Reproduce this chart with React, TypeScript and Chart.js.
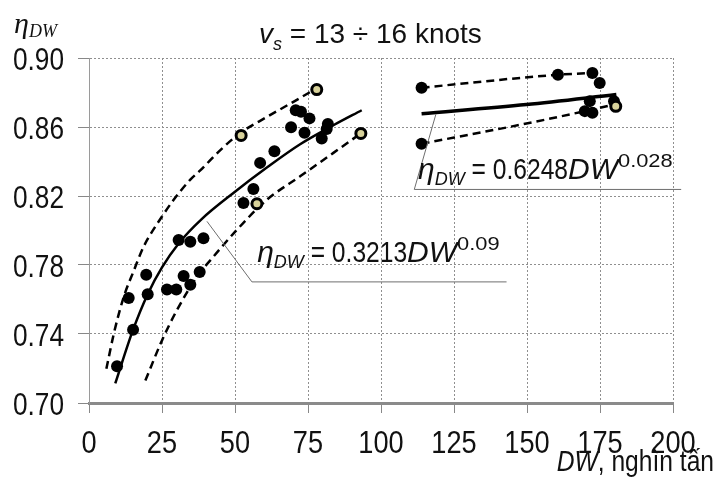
import React, { useEffect, useRef } from "react";
import { Chart, registerables } from "chart.js";

Chart.register(...registerables);

// ---- tick values ----
const xTickValues = [0, 25, 50, 75, 100, 125, 150, 175, 200];
const yTickValues = [0.7, 0.74, 0.78, 0.82, 0.86, 0.9];

// ---- measured points (DW thousand tons, eta) ----
const filledDW = [
  9.6, 15.1, 13.6, 20.1, 19.6, 26.7, 29.9, 32.4, 34.7, 37.9, 30.7, 34.7, 39.2,
  52.9, 56.3, 58.6, 63.5, 69.2, 73.8, 70.8, 72.6, 75.5, 81.8, 81.4, 79.7,
  113.9, 113.9, 160.6, 172.4, 174.9, 171.5, 169.8, 172.4, 179.8,
];
const filledEta = [
  0.7213, 0.7425, 0.7609, 0.7631, 0.7743, 0.7658, 0.7658, 0.7736, 0.7685, 0.7759, 0.7945, 0.7935, 0.7955,
  0.8159, 0.8241, 0.8392, 0.846, 0.8599, 0.8567, 0.8697, 0.8689, 0.865, 0.8617, 0.8588, 0.8533,
  0.8828, 0.8503, 0.8903, 0.8913, 0.8855, 0.875, 0.8692, 0.8683, 0.875,
];
const hollowDW = [57.5, 52.1, 78.0, 93.1, 180.4];
const hollowEta = [0.8155, 0.8551, 0.8817, 0.8563, 0.872];

// ---- curves ----
const leftUpperDW = [5.95, 8.5, 11.9, 15.3, 18.7, 25.0, 29.0, 34.7, 38.1, 44.9, 51.8, 60.9, 70.0, 78.0];
const leftUpperEta = [0.7198, 0.7402, 0.7615, 0.7765, 0.7906, 0.8081, 0.8178, 0.8295, 0.8348, 0.8465, 0.8565, 0.8658, 0.8746, 0.8825];
const leftFitDW = [9.0, 15.1, 20.1, 25.0, 30.7, 38.5, 50.0, 60.9, 72.3, 83.7, 93.4];
const leftFitEta = [0.7114, 0.7425, 0.7631, 0.7786, 0.7925, 0.8065, 0.8225, 0.8365, 0.85, 0.861, 0.8697];
const leftLowerDW = [19.3, 25.0, 30.1, 37.0, 42.6, 50.6, 60.9, 72.3, 83.7, 93.1];
const leftLowerEta = [0.713, 0.7363, 0.7538, 0.7732, 0.7848, 0.8003, 0.8178, 0.8314, 0.845, 0.8563];
const rightUpperDW = [113.9, 160.6, 172.1];
const rightUpperEta = [0.8828, 0.8903, 0.8913];
const rightFitDW = [113.9, 149.8, 180.6];
const rightFitEta = [0.8677, 0.873, 0.8788];
const rightLowerDW = [113.9, 149.8, 169.8, 180.0];
const rightLowerEta = [0.8503, 0.862, 0.8692, 0.8731];

// ---- annotation leader lines (data units) ----
const leftLeaderDW = [40.4, 55.8, 143.0];
const leftLeaderEta = [0.8053, 0.7702, 0.7702];
const rightLeaderDW = [118.8, 111.4, 202.8];
const rightLeaderEta = [0.8674, 0.8238, 0.8238];
const leftFormulaAt = [57.6, 0.7818];
const rightFormulaAt = [112.7, 0.8296];

const toXY = (xs: number[], ys: number[]) => xs.map((x, i) => ({ x, y: ys[i] }));

const SANS = '"Liberation Sans", Arial, sans-serif';
const SERIF = '"Liberation Serif", "Times New Roman", serif';
const NARROW_SX = 0.82;

type Part = { t: string; f: string; dy?: number; sx?: number };
function drawParts(ctx: CanvasRenderingContext2D, x: number, y: number, parts: Part[], align: string = "left") {
  let total = 0;
  parts.forEach((p) => {
    ctx.font = p.f;
    total += ctx.measureText(p.t).width * (p.sx || 1);
  });
  let cx = align === "right" ? x - total : align === "center" ? x - total / 2 : x;
  ctx.textAlign = "left";
  ctx.textBaseline = "alphabetic";
  parts.forEach((p) => {
    ctx.font = p.f;
    const sx = p.sx || 1;
    ctx.save();
    ctx.translate(cx, y + (p.dy || 0));
    ctx.scale(sx, 1);
    ctx.fillText(p.t, 0, 0);
    ctx.restore();
    cx += ctx.measureText(p.t).width * sx;
  });
}

const annotationPlugin = {
  id: "annotations",
  afterDraw(chart: any) {
    const ctx: CanvasRenderingContext2D = chart.ctx;
    const xs = chart.scales.x;
    const ys = chart.scales.y;
    ctx.save();
    ctx.fillStyle = "#111";
    // tick labels (narrow face emulated by horizontal compression)
    const tickFont = `32px ${SANS}`;
    xs.ticks.forEach((t: any) => {
      const px = xs.getPixelForValue(t.value);
      drawParts(ctx, px, 453, [{ t: String(t.value), f: tickFont, sx: 0.85 }], "center");
    });
    ys.ticks.forEach((t: any) => {
      const py = ys.getPixelForValue(t.value);
      drawParts(ctx, 64, py + 11.5, [{ t: Number(t.value).toFixed(2), f: tickFont, sx: NARROW_SX }], "right");
    });

    // leader lines
    ctx.strokeStyle = "#6e6e6e";
    ctx.lineWidth = 1;
    ctx.setLineDash([]);
    const leader = (dx: number[], dy: number[]) => {
      ctx.beginPath();
      dx.forEach((v, i) => {
        const px = xs.getPixelForValue(v);
        const py = ys.getPixelForValue(dy[i]);
        if (i === 0) ctx.moveTo(px, py);
        else ctx.lineTo(px, py);
      });
      ctx.stroke();
    };
    leader(leftLeaderDW, leftLeaderEta);
    leader(rightLeaderDW, rightLeaderEta);

    // formulas
    const formula = (at: number[], coef: string, exp: string) => {
      const px = xs.getPixelForValue(at[0]);
      const py = ys.getPixelForValue(at[1]);
      drawParts(ctx, px, py, [
        { t: "η", f: `italic 30px ${SANS}` },
        { t: "DW", f: `italic 18px ${SANS}`, dy: 6 },
        { t: " = " + coef, f: `30px ${SANS}`, sx: NARROW_SX },
        { t: "DW", f: `italic 30px ${SANS}` },
        { t: exp, f: `19px ${SANS}`, dy: -12, sx: 1.15 },
      ]);
    };
    formula(leftFormulaAt, "0.3213", "0.09");
    formula(rightFormulaAt, "0.6248", "0.028");

    // title
    drawParts(ctx, 259, 43, [
      { t: "v", f: `italic 28px ${SANS}` },
      { t: "s", f: `italic 18px ${SANS}`, dy: 7 },
      { t: " = 13 ÷ 16 knots", f: `28px ${SANS}` },
    ]);
    // y axis label
    drawParts(ctx, 14, 33, [
      { t: "η", f: `italic 30px ${SERIF}` },
      { t: "DW", f: `italic 18px ${SERIF}`, dy: 4 },
    ]);
    // x axis label
    drawParts(ctx, 714, 471, [
      { t: "DW", f: `italic 30px ${SANS}`, sx: NARROW_SX },
      { t: ", nghìn tấn", f: `30px ${SANS}`, sx: NARROW_SX },
    ], "right");
    ctx.restore();
  },
};

export default function App() {
  const ref = useRef<HTMLCanvasElement | null>(null);
  useEffect(() => {
    if (!ref.current) return;
    const lineDs = (xs: number[], ys: number[], dashed: boolean, width: number) => ({
      data: toXY(xs, ys),
      showLine: true,
      borderColor: "#000",
      borderWidth: width,
      borderDash: dashed ? [8, 5] : [],
      pointRadius: 0,
      pointHoverRadius: 0,
      cubicInterpolationMode: "monotone",
      fill: false,
    });
    const chart = new Chart(ref.current, {
      type: "scatter",
      data: {
        datasets: [
          {
            data: toXY(hollowDW, hollowEta),
            pointRadius: 5,
            pointBorderWidth: 3,
            pointBackgroundColor: "#d8d29a",
            pointBorderColor: "#000",
            showLine: false,
          } as any,
          {
            data: toXY(filledDW, filledEta),
            pointRadius: 6,
            pointBorderWidth: 0,
            pointBackgroundColor: "#000",
            pointBorderColor: "#000",
            showLine: false,
          },
          lineDs(leftUpperDW, leftUpperEta, true, 2.5),
          lineDs(leftFitDW, leftFitEta, false, 2.5),
          lineDs(leftLowerDW, leftLowerEta, true, 2.5),
          lineDs(rightUpperDW, rightUpperEta, true, 2.5),
          lineDs(rightFitDW, rightFitEta, false, 3.5),
          lineDs(rightLowerDW, rightLowerEta, true, 2.5),
        ] as any,
      },
      options: {
        animation: false,
        responsive: false,
        maintainAspectRatio: false,
        layout: { padding: { left: 0, top: 58, right: 51, bottom: 0 } },
        plugins: { legend: { display: false }, tooltip: { enabled: false }, title: { display: false } },
        events: [],
        scales: {
          x: {
            type: "linear",
            min: 0,
            max: 200,
            afterBuildTicks: (s: any) => {
              s.ticks = xTickValues.map((v) => ({ value: v }));
            },
            afterFit: (s: any) => {
              s.height = 86;
            },
            ticks: { display: false, autoSkip: false },
            grid: { color: "#8f8f8f", lineWidth: 1, tickLength: 10, tickColor: "#888", tickWidth: 1 },
            border: { display: true, color: "#8a8a8a", width: 3, dash: [2, 2] },
          },
          y: {
            type: "linear",
            min: 0.7,
            max: 0.9,
            afterBuildTicks: (s: any) => {
              s.ticks = yTickValues.map((v) => ({ value: v }));
            },
            afterFit: (s: any) => {
              s.width = 89;
            },
            ticks: { display: false, autoSkip: false },
            grid: { color: "#8f8f8f", lineWidth: 1, tickLength: 11, tickColor: "#888", tickWidth: 1 },
            border: { display: true, color: "#9a9a9a", width: 1, dash: [2, 2] },
          },
        },
      } as any,
      plugins: [annotationPlugin],
    });
    return () => chart.destroy();
  }, []);
  return (
    <div style={{ position: "fixed", left: 0, top: 0, width: 724, height: 489, background: "#fff" }}>
      <canvas ref={ref} width={724} height={489} style={{ display: "block", width: 724, height: 489 }} />
    </div>
  );
}
